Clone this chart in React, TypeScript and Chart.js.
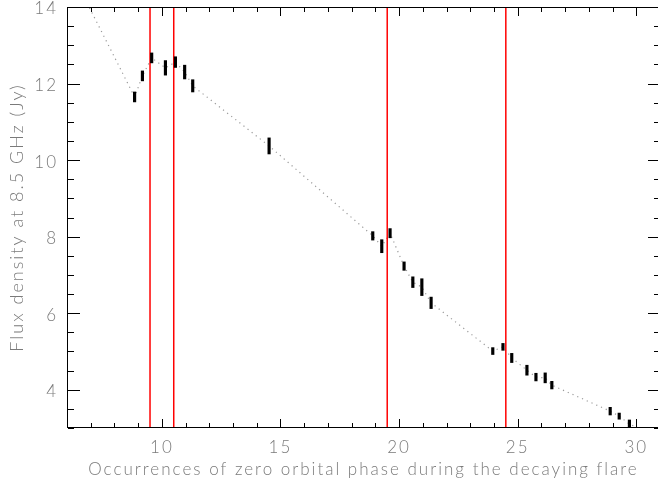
import { useEffect, useRef } from "react";
import { Chart, registerables } from "chart.js";

Chart.register(...registerables);

// Measured flux density (Jy) at 8.5 GHz against orbital-phase occurrence
const phaseX = [8.85, 9.18, 9.57, 10.15, 10.57, 10.96, 11.3, 14.52, 18.89, 19.27, 19.62, 20.21, 20.58, 20.96, 21.35, 23.95, 24.38, 24.75, 25.39, 25.77, 26.16, 26.44, 28.9, 29.28, 29.71];
const fluxJy = [11.65, 12.2, 12.67, 12.41, 12.56, 12.3, 11.94, 10.37, 8.02, 7.75, 8.09, 7.23, 6.81, 6.68, 6.27, 5.01, 5.12, 4.83, 4.51, 4.33, 4.31, 4.12, 3.44, 3.31, 3.1];
const fluxErr = [0.13, 0.13, 0.13, 0.19, 0.14, 0.18, 0.16, 0.21, 0.11, 0.17, 0.12, 0.11, 0.14, 0.22, 0.15, 0.09, 0.09, 0.12, 0.13, 0.1, 0.13, 0.1, 0.1, 0.08, 0.11];

// Ends of the dotted decay trace beyond the first and last measurement
const trendStart = [6.85, 14.1];
const trendEnd = [30.3, 2.95];

// Zero orbital phase markers
const phaseZero = [9.5, 10.5, 19.5, 24.5];

// Axis ranges and labelled ticks
const xRange = [6, 31];
const yRange = [3, 14];
const xTickValues = [10, 15, 20, 25, 30];
const yTickValues = [4, 6, 8, 10, 12, 14];
const xMinorStep = 1;
const yMinorStep = 0.5;

const TEXT = "#7a7a7a";
const FONT = "Lato";
const labelFont = { family: FONT, size: 17, weight: "300" as const };

// Box frame with inward ticks on all four sides
const frameTicks = {
  id: "frameTicks",
  afterDraw(chart: any) {
    const ctx: CanvasRenderingContext2D = chart.ctx;
    const a = chart.chartArea;
    const x = chart.scales.x;
    const y = chart.scales.y;
    ctx.save();
    ctx.fillStyle = "#000000";
    const L = Math.round(a.left);
    const R = Math.round(a.right);
    const T = Math.round(a.top);
    const B = Math.round(a.bottom) - 1;
    ctx.fillRect(L, T, R - L + 1, 1);
    ctx.fillRect(L, B, R - L + 1, 1);
    ctx.fillRect(L, T, 1, B - T + 1);
    ctx.fillRect(R, T, 1, B - T + 1);
    for (let v = xRange[0]; v <= xRange[1] + 1e-9; v += xMinorStep) {
      const px = Math.round(x.getPixelForValue(v));
      const len = xTickValues.indexOf(v) >= 0 ? 8 : 4;
      ctx.fillRect(px, B - len, 1, len);
      ctx.fillRect(px, T + 1, 1, len);
    }
    for (let v = yRange[0]; v <= yRange[1] + 1e-9; v += yMinorStep) {
      const py = Math.round(y.getPixelForValue(v));
      const len = yTickValues.indexOf(v) >= 0 ? 12 : 6;
      ctx.fillRect(L + 1, py, len, 1);
      ctx.fillRect(R - len, py, len, 1);
    }
    ctx.restore();
  },
};

// Slightly open lettering for every label on the canvas
const spacedText = {
  id: "spacedText",
  beforeDraw(chart: any) {
    chart.ctx.letterSpacing = "2px";
  },
  afterDatasetsDraw(chart: any) {
    chart.ctx.letterSpacing = "0px";
  },
};

export default function App() {
  const ref = useRef<HTMLCanvasElement>(null);

  useEffect(() => {
    const errorBars = phaseX.map((x, i) => ({ x, y: [fluxJy[i] - fluxErr[i], fluxJy[i] + fluxErr[i]] }));
    const trace = [
      { x: trendStart[0], y: trendStart[1] },
      ...phaseX.map((x, i) => ({ x, y: fluxJy[i] })),
      { x: trendEnd[0], y: trendEnd[1] },
    ];
    const markers = phaseZero.map((p) => ({
      type: "line" as const,
      data: [{ x: p, y: yRange[0] }, { x: p, y: yRange[1] }],
      borderColor: "#ff0000",
      borderWidth: 1.5,
      pointRadius: 0,
    }));

    const chart = new Chart(ref.current!, {
      type: "bar",
      data: {
        datasets: [
          {
            type: "bar",
            data: errorBars as any,
            backgroundColor: "#000",
            barThickness: 2.5,
          },
          ...markers,
          {
            type: "line",
            data: trace,
            borderColor: "#9a9a9a",
            borderWidth: 1.2,
            borderDash: [1.2, 4],
            pointRadius: 0,
          },
        ] as any,
      },
      options: {
        animation: false,
        responsive: false,
        devicePixelRatio: 1,
        events: [],
        layout: { padding: { left: 0, top: 7, right: 2, bottom: 0 } },
        plugins: { legend: { display: false }, tooltip: { enabled: false } },
        scales: {
          x: {
            type: "linear",
            min: xRange[0],
            max: xRange[1],
            offset: false,
            grid: { display: false, drawTicks: false, offset: false },
            border: { display: false },
            afterBuildTicks: (s: any) => {
              s.ticks = xTickValues.map((value) => ({ value }));
            },
            afterFit: (s: any) => {
              s.height = 57;
              s.paddingLeft = 0;
              s.paddingRight = 0;
            },
            ticks: {
              color: TEXT,
              font: labelFont,
              padding: 9,
              maxRotation: 0,
              autoSkip: false,
            },
            title: {
              display: true,
              text: "Occurrences of zero orbital phase during the decaying flare",
              color: TEXT,
              font: labelFont,
              padding: { top: 0, bottom: 5 },
            },
          },
          y: {
            type: "linear",
            min: yRange[0],
            max: yRange[1],
            grid: { display: false, drawTicks: false },
            border: { display: false },
            afterBuildTicks: (s: any) => {
              s.ticks = yTickValues.map((value) => ({ value }));
            },
            afterFit: (s: any) => {
              s.width = 67;
              s.paddingTop = 0;
              s.paddingBottom = 0;
            },
            ticks: {
              color: TEXT,
              font: labelFont,
              padding: 9,
              labelOffset: 2,
            },
            title: {
              display: true,
              text: "Flux density at 8.5 GHz (Jy)",
              color: TEXT,
              font: { ...labelFont, size: 18 },
              padding: { top: 6, bottom: 0 },
            },
          },
        },
      },
      plugins: [spacedText, frameTicks],
    });
    return () => chart.destroy();
  }, []);

  return (
    <div style={{ position: "fixed", left: 0, top: 0, width: 658, height: 485, overflow: "hidden", background: "#fff" }}>
      <canvas ref={ref} width={662} height={485} style={{ display: "block", width: 662, height: 485 }} />
    </div>
  );
}
